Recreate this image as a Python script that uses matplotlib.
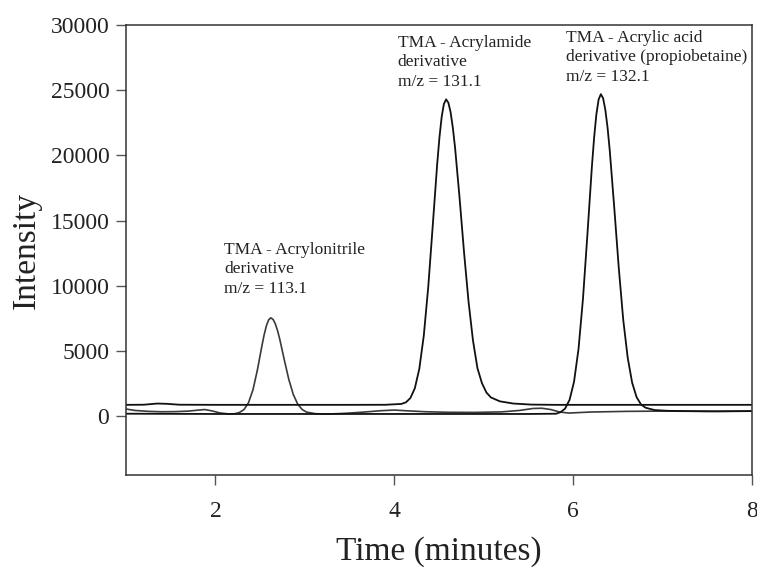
import matplotlib
matplotlib.use("Agg")
import matplotlib.pyplot as plt

plt.rcParams['font.family'] = ['Liberation Serif', 'DejaVu Serif']

# Trace 1: TMA - Acrylonitrile derivative (m/z 113.1)
t_113 = [1.0, 1.1, 1.25, 1.4, 1.55, 1.7, 1.8, 1.88, 1.96, 2.05, 2.15, 2.22, 2.27,
         2.32, 2.37, 2.42, 2.47, 2.52, 2.545, 2.57, 2.595, 2.62, 2.645, 2.67, 2.695,
         2.72, 2.77, 2.82, 2.87, 2.92, 2.97, 3.02, 3.12, 3.25, 3.45, 3.65, 3.85,
         4.0, 4.15, 4.35, 4.6, 4.9, 5.2, 5.4, 5.55, 5.65, 5.75, 5.85, 5.95, 6.2,
         6.6, 7.0, 7.5, 8.0]
i_113 = [560, 450, 380, 350, 360, 400, 470, 520, 420, 260, 180, 200, 300,
         520, 1040, 2030, 3570, 5400, 6250, 6940, 7390, 7550, 7430, 7090, 6570,
         5900, 4340, 2850, 1690, 940, 520, 320, 200, 170, 230, 320, 430,
         480, 420, 350, 310, 300, 340, 450, 600, 620, 520, 330, 250, 330,
         380, 400, 380, 400]

# Trace 2: TMA - Acrylamide derivative (m/z 131.1)
t_131 = [1.0, 1.2, 1.35, 1.45, 1.6, 2.0, 2.5, 3.0, 3.5, 3.9, 4.08, 4.13, 4.18,
         4.23, 4.28, 4.33, 4.38, 4.43, 4.48, 4.505, 4.53, 4.555, 4.58, 4.605,
         4.63, 4.655, 4.68, 4.73, 4.78, 4.83, 4.88, 4.93, 4.98, 5.03, 5.08,
         5.18, 5.33, 5.53, 5.8, 6.5, 7.0, 7.5, 8.0]
i_131 = [880, 890, 980, 960, 890, 880, 880, 880, 880, 885, 950, 1070, 1400,
         2150, 3640, 6180, 9920, 14600, 19340, 21370, 22950, 23950, 24300, 24040,
         23310, 22120, 20580, 16760, 12590, 8820, 5820, 3690, 2550, 1830, 1450,
         1150, 980, 900, 880, 880, 880, 880, 880]

# Trace 3: TMA - Acrylic acid derivative (m/z 132.1)
t_132 = [1.0, 1.5, 2.0, 2.5, 3.0, 3.5, 4.0, 4.5, 5.0, 5.5, 5.81, 5.86, 5.91,
         5.96, 6.01, 6.06, 6.11, 6.16, 6.21, 6.235, 6.26, 6.285, 6.31, 6.335,
         6.36, 6.385, 6.41, 6.46, 6.51, 6.56, 6.61, 6.66, 6.71, 6.76, 6.81,
         6.91, 7.06, 7.3, 7.6, 8.0]
i_132 = [200, 190, 180, 180, 180, 180, 180, 180, 180, 180, 200, 320, 590,
         1260, 2650, 5150, 9010, 13980, 19170, 21400, 23160, 24290, 24700, 24390,
         23500, 22130, 20340, 15980, 11400, 7410, 4500, 2570, 1460, 900, 660,
         480, 420, 400, 380, 400]

peak_labels = ["TMA - Acrylonitrile\nderivative\nm/z = 113.1",
               "TMA - Acrylamide\nderivative\nm/z = 131.1",
               "TMA - Acrylic acid\nderivative (propiobetaine)\nm/z = 132.1"]
label_x = [2.1, 4.04, 5.92]
label_y = [13400, 29250, 29650]

x_ticks = [2, 4, 6, 8]
y_ticks = [0, 5000, 10000, 15000, 20000, 25000, 30000]

fig = plt.figure(figsize=(7.57, 5.71), dpi=100)
ax = fig.add_axes([0.1664, 0.1681, 0.8270, 0.7881])

ax.plot(t_113, i_113, color='#3a3a3a', lw=1.2)
ax.plot(t_131, i_131, color='#111111', lw=1.3)
ax.plot(t_132, i_132, color='#111111', lw=1.3)

for txt, x, y in zip(peak_labels, label_x, label_y):
    ax.text(x, y, txt, fontsize=12.5, va='top', ha='left', color='#222222', linespacing=1.3)

ax.set_xlim(1, 8)
ax.set_ylim(-4500, 30000)
ax.set_xticks(x_ticks)
ax.set_yticks(y_ticks)
ax.tick_params(labelsize=17, length=7, width=1, color='#555555', labelcolor='#222222')
ax.tick_params(axis='x', pad=12)
ax.tick_params(axis='y', pad=5)
for s in ax.spines.values():
    s.set_color('#333333')
    s.set_linewidth(1.1)

ax.set_xlabel('Time (minutes)', fontsize=24, color='#222222', labelpad=10)
ax.set_ylabel('Intensity', fontsize=24, color='#222222', labelpad=6)

fig.savefig('out.png', dpi=100)
